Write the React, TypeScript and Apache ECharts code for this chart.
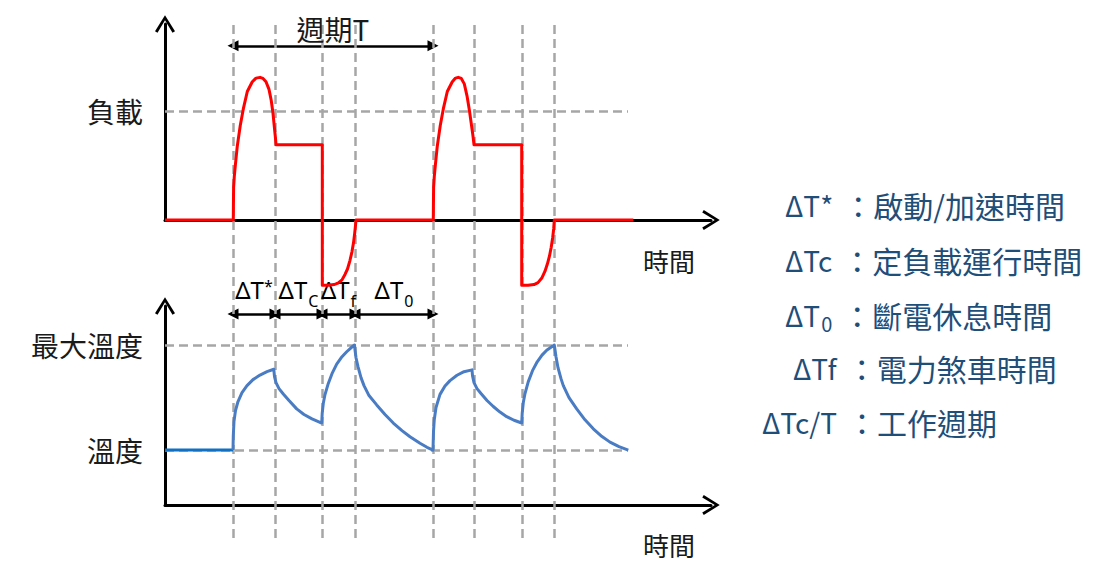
import React, { useEffect, useRef } from "react";
import * as echarts from "echarts";

// ---------- time axis (arbitrary units; one period T = 20) ----------
const timeMax = 54.6;
const phaseTimes = [6.8, 11.0, 15.7, 19.0, 26.8, 30.9, 35.7, 38.95];
const periodStart = 6.8;
const periodEnd = 26.8;
const guideEnd = 46.3;
const intervalBounds = [6.8, 11.0, 15.7, 19.0, 26.8];
const intervalMain = ["ΔT", "ΔT", "ΔT", "ΔT"];
const intervalSup = ["*", "", "", ""];
const intervalSub = ["", "C", "f", "0"];

// ---------- load (% of rated) ----------
const loadMax = 180;
const ratedLoad = 100;
const periodArrowLevel = 160;
const loadPoints: [number, number][] = [
  [0, 0], [6.83, 0],
  [6.86, 30], [6.93, 40], [7.03, 50], [7.23, 68], [7.53, 87], [7.83, 102], [8.23, 118],
  [8.73, 127], [9.1, 130.3], [9.5, 131], [9.8, 130], [10.1, 127], [10.4, 120], [10.62, 110],
  [10.8, 98], [10.95, 84], [11.05, 75], [11.1, 69],
  [15.73, 69], [15.73, -60], [16.3, -60], [16.9, -59.3], [17.3, -58], [17.7, -55], [18.0, -50],
  [18.25, -45], [18.5, -37], [18.7, -29], [18.85, -21], [18.97, -12], [19.05, -5], [19.1, 0],
  [26.83, 0],
  [26.86, 30], [26.93, 40], [27.03, 50], [27.23, 68], [27.53, 87], [27.83, 102], [28.23, 118],
  [28.73, 127], [29.05, 130.3], [29.33, 131], [29.63, 130], [29.93, 125], [30.2, 114],
  [30.45, 100], [30.65, 87], [30.8, 77], [30.9, 69],
  [35.67, 69], [35.67, -60], [36.3, -60], [36.9, -59.3], [37.3, -57.5], [37.7, -53], [38.0, -47],
  [38.25, -40], [38.45, -33], [38.62, -25], [38.77, -16], [38.87, -8], [38.93, 0],
  [46.83, 0],
];

// ---------- temperature ----------
const tempMax = 100;
const ambientTemp = 27.6;
const maxTemp = 80.4;
const intervalArrowLevel = 96;
const tempBasePoints: [number, number][] = [[0, 27.6], [6.8, 27.6]];
const tempPoints: [number, number][] = [
  [6.8, 27.6], [6.83, 35], [6.9, 42], [7.05, 47.5], [7.3, 52], [7.7, 56.5], [8.2, 60],
  [8.8, 63], [9.5, 65.3], [10.2, 67], [10.88, 68.2],
  [10.95, 64.5], [11.1, 61.5], [11.4, 58.5], [11.83, 55.8], [12.4, 52.5], [13.17, 48.3],
  [13.9, 45.5], [14.7, 43.3], [15.67, 41.2],
  [15.72, 46], [15.83, 51.1], [16.0, 55.5], [16.33, 61.1], [16.7, 66], [17.17, 70.8],
  [17.7, 74.5], [18.17, 77], [18.6, 79], [18.95, 80.4],
  [19.0, 78], [19.1, 74], [19.3, 69.5], [19.6, 64], [19.9, 60], [20.4, 55], [21.17, 50.3],
  [22.0, 45.5], [22.83, 41.2], [23.7, 37.4], [24.5, 34.3], [25.5, 31], [26.2, 29], [26.8, 27.6],
  [26.85, 37], [26.93, 43], [27.1, 49], [27.5, 55.6], [28.0, 59.8], [28.5, 62.5], [29.2, 65.2],
  [29.9, 67], [30.7, 67.9],
  [30.75, 65], [30.9, 61.5], [31.2, 58.5], [31.6, 56], [32.2, 52.5], [32.83, 49.5], [33.5, 46.7],
  [34.17, 44.4], [34.9, 42.6], [35.67, 41.2],
  [35.72, 46], [35.83, 51.5], [36.0, 56], [36.33, 62], [36.75, 67.5], [37.17, 71.5],
  [37.7, 75.3], [38.17, 77.8], [38.6, 79.3], [38.93, 80.4],
  [39.0, 78], [39.1, 74.5], [39.3, 69], [39.6, 63.5], [39.83, 60], [40.4, 54], [41.17, 48.3],
  [42.0, 42.8], [42.83, 38.3], [43.7, 34.4], [44.5, 31.6], [45.4, 29.3], [46.33, 27.6],
];

// ---------- texts ----------
const loadLabel = "負載";
const maxTempLabel = "最大溫度";
const tempLabel = "溫度";
const timeLabel = "時間";
const periodLabel = "週期T";
const legendMain = ["ΔT*", "ΔTc", "ΔT", "ΔTf", "ΔTc/T"];
const legendSub = ["", "", "0", "", ""];
const legendText = ["啟動/加速時間", "定負載運行時間", "斷電休息時間", "電力煞車時間", "工作週期"];

const CJK = '"Noto Sans CJK TC", "Noto Sans", sans-serif';
const LAT = '"Noto Sans", "DejaVu Sans", sans-serif';
const chevron = "path://M10,0 L20,16 L17.5,17.5 L10,5 L2.5,17.5 L0,16 Z";
const axisLineStyle = { color: "#000", width: 3 };
const dashStyle = { color: "#a6a6a6", width: 2.5, type: [9, 5] as number[] };
const textColor = "#1a1a1a";
const legendColor = "#1f4e79";

export default function App() {
  const ref = useRef<HTMLDivElement>(null);
  useEffect(() => {
    if (!ref.current) return;
    const chart = echarts.init(ref.current, undefined, { renderer: "svg" });

    const grids = [
      { left: 165, width: 546, top: 24, height: 196 },
      { left: 165, width: 546, top: 306, height: 199 },
      { left: 165, width: 546, top: 23, height: 515 },
    ];

    const xAxes = grids.map((_, i) => ({
      type: "value",
      gridIndex: i,
      min: 0,
      max: timeMax,
      show: i < 2,
      axisLine: {
        show: i < 2,
        onZero: false,
        symbol: ["none", chevron],
        symbolSize: [20, 18],
        lineStyle: axisLineStyle,
      },
      axisTick: { show: false },
      axisLabel: { show: false },
      splitLine: { show: false },
      name: i < 2 ? timeLabel : "",
      nameLocation: "end",
      nameGap: -16,
      nameTextStyle: {
        align: "right",
        verticalAlign: "top",
        lineHeight: 26,
        padding: [i === 0 ? 27 : 26, 0, 0, 0],
        fontSize: 26,
        color: textColor,
        fontFamily: CJK,
      },
    }));

    const yMax = [loadMax, tempMax, 1];
    const yAxes = grids.map((_, i) => ({
      type: "value",
      gridIndex: i,
      min: 0,
      max: yMax[i],
      show: i < 2,
      axisLine: {
        show: i < 2,
        onZero: false,
        symbol: ["none", chevron],
        symbolSize: [20, 18],
        lineStyle: axisLineStyle,
      },
      axisTick: { show: false },
      axisLabel: { show: false },
      splitLine: { show: false },
    }));

    const levelLabel = (text: string) => ({
      show: true,
      position: "start",
      formatter: text,
      distance: 22,
      fontSize: 28,
      color: textColor,
      fontFamily: CJK,
    });

    const arrowEnd = (coord: [number, number]) => ({
      coord,
      symbol: "triangle",
      symbolSize: [11, 11],
    });

    const intervalArrows = intervalMain.map((m, i) => {
      let fmt = `{m|${m}}`;
      if (intervalSup[i]) fmt += `{sup|${intervalSup[i]}}`;
      else if (intervalSub[i]) fmt += `{sub|${intervalSub[i]}}`;
      return [
        {
          ...arrowEnd([intervalBounds[i], intervalArrowLevel]),
          lineStyle: { color: "#000", width: 2.5, type: "solid" },
          label: {
            show: true,
            position: "middle",
            distance: 12,
            formatter: fmt,
            color: "#000",
            fontFamily: LAT,
            rich: {
              m: { fontSize: 24, lineHeight: 24, verticalAlign: "top", fontFamily: LAT, color: "#000" },
              sup: { fontSize: 16, lineHeight: 16, verticalAlign: "top", fontFamily: LAT, color: "#000" },
              sub: { fontSize: 16, lineHeight: 16, padding: [15, 0, 0, 1], verticalAlign: "top", fontFamily: LAT, color: "#000" },
            },
          },
        },
        arrowEnd([intervalBounds[i + 1], intervalArrowLevel]),
      ];
    });

    const series: any[] = [
      {
        type: "line",
        name: "負載",
        xAxisIndex: 0,
        yAxisIndex: 0,
        data: loadPoints,
        showSymbol: false,
        symbol: "none",
        clip: false,
        z: 10,
        lineStyle: { color: "#ff0000", width: 3, join: "round" },
        itemStyle: { color: "#ff0000" },
        markLine: {
          silent: true,
          symbol: ["none", "none"],
          animation: false,
          data: [
            [
              { coord: [0, ratedLoad], lineStyle: dashStyle, label: levelLabel(loadLabel) },
              { coord: [guideEnd, ratedLoad] },
            ],
            [
              {
                ...arrowEnd([periodStart, periodArrowLevel]),
                lineStyle: { color: "#000", width: 2.5, type: "solid" },
                label: {
                  show: true,
                  position: "middle",
                  distance: 3,
                  formatter: periodLabel,
                  fontSize: 28,
                  color: textColor,
                  fontFamily: CJK,
                },
              },
              arrowEnd([periodEnd, periodArrowLevel]),
            ],
          ],
        },
      },
      {
        type: "line",
        name: "溫度基準",
        xAxisIndex: 1,
        yAxisIndex: 1,
        data: tempBasePoints,
        showSymbol: false,
        symbol: "none",
        z: 10,
        lineStyle: { color: "#1070c4", width: 3 },
      },
      {
        type: "line",
        name: "溫度",
        xAxisIndex: 1,
        yAxisIndex: 1,
        data: tempPoints,
        showSymbol: false,
        symbol: "none",
        z: 10,
        lineStyle: { color: "#4a7cc4", width: 3, join: "round" },
        itemStyle: { color: "#4a7cc4" },
        markLine: {
          silent: true,
          symbol: ["none", "none"],
          animation: false,
          data: [
            [
              { coord: [0, maxTemp], lineStyle: dashStyle, label: levelLabel(maxTempLabel) },
              { coord: [guideEnd, maxTemp] },
            ],
            [
              { coord: [0, ambientTemp], lineStyle: dashStyle, label: levelLabel(tempLabel) },
              { coord: [guideEnd, ambientTemp] },
            ],
            ...intervalArrows,
          ],
        },
      },
      {
        type: "line",
        name: "guides",
        xAxisIndex: 2,
        yAxisIndex: 2,
        data: [],
        showSymbol: false,
        markLine: {
          silent: true,
          symbol: ["none", "none"],
          animation: false,
          label: { show: false },
          lineStyle: dashStyle,
          data: phaseTimes.map((t) => ({ xAxis: t })),
        },
      },
    ];

    const legendX = [785, 785, 785, 793, 762];
    const legendY = [205, 260, 315, 368, 422];
    const graphic = legendMain.map((m, i) => ({
      type: "text",
      x: legendX[i],
      y: legendY[i],
      style: {
        text:
          `{l|${m}}` +
          (legendSub[i] ? `{s|${legendSub[i]}}` : "") +
          `{k|：}{c|${legendText[i]}}`,
        fill: legendColor,
        align: "left",
        verticalAlign: "middle",
        rich: {
          l: { fontSize: 28, fontFamily: CJK, fill: legendColor },
          s: { fontSize: 20, fontFamily: CJK, fill: legendColor, verticalAlign: "bottom", padding: [16, 0, 0, 1] },
          k: { fontSize: 30, fontFamily: CJK, fill: legendColor, padding: [0, 0, 0, 10] },
          c: { fontSize: 30, fontFamily: CJK, fill: legendColor },
        },
      },
    }));

    chart.setOption({
      animation: false,
      backgroundColor: "#ffffff",
      grid: grids,
      xAxis: xAxes,
      yAxis: yAxes,
      series,
      graphic,
    } as any);

    return () => chart.dispose();
  }, []);

  return (
    <div
      ref={ref}
      style={{ position: "absolute", left: 0, top: 0, width: 1094, height: 561, background: "#fff" }}
    />
  );
}
